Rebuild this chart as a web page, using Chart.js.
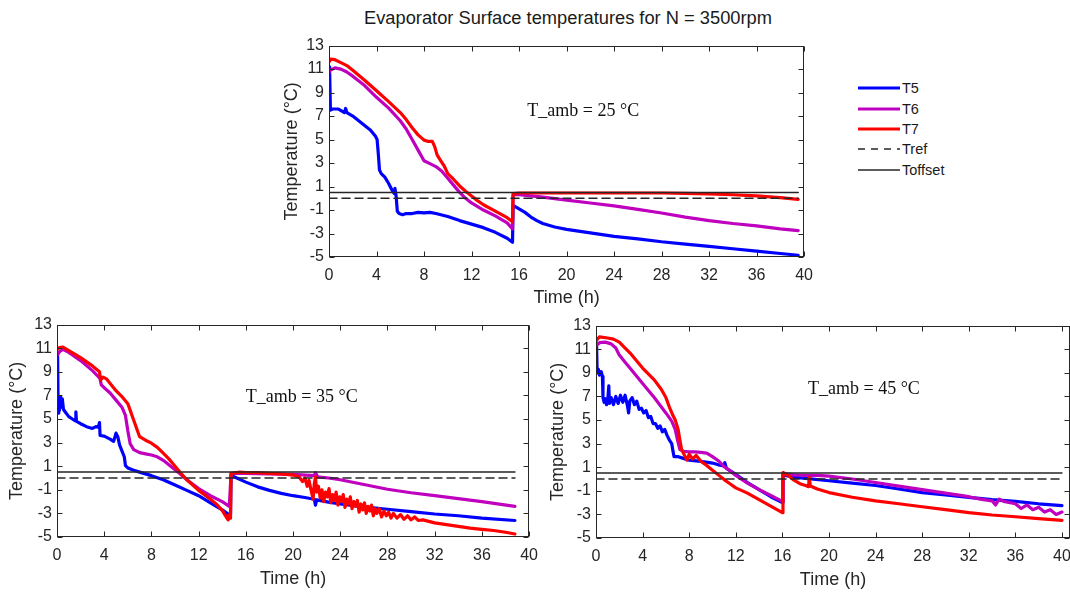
<!DOCTYPE html>
<html>
<head>
<meta charset="utf-8">
<title>Evaporator Surface temperatures for N = 3500rpm</title>
<script src="https://cdn.jsdelivr.net/npm/chart.js@4.4.1/dist/chart.umd.min.js"></script>
<style>
  html, body { margin: 0; padding: 0; background: #fff; }
  body { width: 1070px; height: 593px; overflow: hidden; position: relative;
         font-family: "Liberation Sans", Arial, sans-serif; }
  canvas { position: absolute; }
  #title { position: absolute; left: 268px; width: 600px; top: 7px; text-align: center;
           font-size: 18.3px; line-height: 22px; color: #1a1a1a; }
  .leg { position: absolute; left: 858px; height: 20px; display: flex; align-items: center;
         font-size: 14.5px; color: #1a1a1a; }
  .leg svg { display: block; margin-right: 2px; }
</style>
</head>
<body>
<div id="title">Evaporator Surface temperatures for N = 3500rpm</div>

<div class="leg" style="top:78px"><svg width="42" height="20"><line x1="0" y1="10" x2="42" y2="10" stroke="#0000ff" stroke-width="3"/></svg><span>T5</span></div>
<div class="leg" style="top:98.5px"><svg width="42" height="20"><line x1="0" y1="10" x2="42" y2="10" stroke="#bf00bf" stroke-width="3"/></svg><span>T6</span></div>
<div class="leg" style="top:119px"><svg width="42" height="20"><line x1="0" y1="10" x2="42" y2="10" stroke="#ff0000" stroke-width="3"/></svg><span>T7</span></div>
<div class="leg" style="top:139px"><svg width="42" height="20"><line x1="0" y1="10" x2="42" y2="10" stroke="#262626" stroke-width="1.5" stroke-dasharray="7,6"/></svg><span>Tref</span></div>
<div class="leg" style="top:159.5px"><svg width="42" height="20"><line x1="0" y1="10" x2="42" y2="10" stroke="#262626" stroke-width="1.5"/></svg><span>Toffset</span></div>

<canvas id="c25" width="541" height="278" style="left:281px;top:31px"></canvas>
<canvas id="c35" width="541" height="280" style="left:6px;top:310px"></canvas>
<canvas id="c45" width="537" height="280" style="left:547px;top:311px"></canvas>

<script>
// ---- T_amb = 25 °C ----
const hT5_25 = [0, 0.05, 0.12, 0.3, 0.8, 1.3, 1.4, 1.5, 2, 2.5, 3, 3.5, 3.9, 4.05, 4.15, 4.25, 4.4, 4.7, 5.0, 5.3, 5.5, 5.55, 5.65, 5.75, 5.9, 6.2, 6.5, 7, 7.5, 8, 8.5, 9, 10, 11, 12, 13, 14, 15, 15.45, 15.5, 16, 16.5, 17, 17.5, 18, 19, 20, 22, 24, 26, 28, 30, 32, 34, 36, 38, 39.5];
const T5_25 = [11.2, 11.0, 7.5, 7.6, 7.6, 7.3, 7.65, 7.3, 7.0, 6.6, 6.2, 5.8, 5.3, 5.0, 3.8, 2.4, 2.1, 1.8, 1.3, 0.7, 0.4, 0.85, 0.2, -1.1, -1.3, -1.4, -1.3, -1.3, -1.2, -1.25, -1.2, -1.3, -1.55, -1.9, -2.2, -2.5, -2.9, -3.4, -3.75, -0.6, -0.9, -1.2, -1.6, -1.9, -2.15, -2.45, -2.65, -2.95, -3.25, -3.45, -3.7, -3.9, -4.1, -4.3, -4.5, -4.7, -4.85];
const hT6_25 = [0, 0.1, 0.5, 1, 1.5, 2, 3, 4, 5, 6, 6.5, 7, 7.5, 8, 8.5, 9, 9.5, 10, 10.5, 11, 11.5, 12, 13, 14, 15, 15.45, 15.5, 16, 17, 18, 20, 22, 24, 26, 28, 30, 32, 34, 36, 38, 39.5];
const T6_25 = [10.7, 10.9, 11.1, 11.0, 10.75, 10.4, 9.6, 8.6, 7.7, 6.6, 5.9, 5.0, 4.1, 3.2, 2.95, 2.7, 2.3, 1.7, 1.1, 0.5, 0.0, -0.4, -1.0, -1.5, -2.1, -2.6, 0.3, 0.3, 0.2, 0.1, -0.15, -0.4, -0.65, -0.95, -1.25, -1.6, -1.9, -2.15, -2.35, -2.6, -2.75];
const hT7_25 = [0, 0.15, 0.5, 1, 1.5, 2, 3, 4, 5, 6, 6.5, 7, 7.5, 8, 8.3, 8.7, 8.9, 9.1, 9.4, 9.7, 10, 10.5, 11, 11.5, 12, 12.5, 13, 14, 15, 15.45, 15.5, 16, 18, 20, 22, 24, 26, 28, 30, 32, 34, 36, 38, 39.5];
const T7_25 = [11.6, 11.85, 11.8, 11.55, 11.3, 10.9, 10.05, 9.15, 8.25, 7.3, 6.7, 6.0, 5.4, 4.95, 4.85, 4.85, 4.4, 3.7, 3.2, 2.75, 2.1, 1.6, 1.05, 0.6, 0.2, -0.2, -0.55, -1.1, -1.65, -2.0, 0.4, 0.45, 0.45, 0.45, 0.45, 0.45, 0.45, 0.45, 0.42, 0.38, 0.3, 0.2, 0.05, -0.1];

// ---- T_amb = 35 °C ----
const hT5_35 = [0, 0.05, 0.1, 0.15, 0.2, 0.3, 0.35, 0.45, 0.55, 0.7, 1.0, 1.3, 1.55, 1.6, 1.65, 2, 2.5, 3, 3.3, 3.5, 3.6, 3.65, 4, 4.5, 4.8, 5.0, 5.15, 5.3, 5.5, 5.7, 5.8, 6, 6.5, 7, 7.5, 8, 9, 10, 11, 12, 13, 14, 14.7, 14.75, 15, 16, 17, 18, 19, 20, 21, 21.8, 21.9, 22, 23, 24, 26, 28, 30, 32, 34, 36, 38.8];
const T5_35 = [10.4, 10.6, 5.5, 6.6, 5.7, 6.9, 6.0, 6.7, 5.8, 5.6, 5.2, 5.0, 4.85, 5.6, 4.8, 4.6, 4.35, 4.2, 4.35, 4.3, 4.7, 3.6, 3.55, 3.3, 3.1, 3.8, 3.5, 2.8, 2.3, 1.8, 1.05, 0.85, 0.65, 0.5, 0.35, 0.2, -0.15, -0.6, -1.05, -1.5, -2.1, -2.7, -3.2, 0.2, 0.1, -0.35, -0.75, -1.05, -1.3, -1.5, -1.65, -1.8, -2.3, -1.85, -2.05, -2.2, -2.45, -2.65, -2.85, -3.05, -3.2, -3.4, -3.6];
const hT6_35 = [0, 0.2, 0.5, 1, 2, 3, 3.5, 3.65, 3.75, 4, 4.5, 5, 5.5, 5.8, 6.0, 6.2, 6.5, 7, 7.5, 8, 8.5, 9, 9.5, 10, 10.5, 11, 12, 13, 14, 14.6, 14.75, 16, 18, 20, 21.8, 21.9, 22.1, 23, 24, 26, 28, 30, 32, 34, 36, 38.8];
const T6_35 = [10.4, 10.7, 10.9, 10.65, 9.95, 9.1, 8.6, 8.4, 7.9, 7.65, 7.2, 6.6, 6.0, 5.3, 4.0, 2.9, 2.4, 2.15, 2.05, 1.95, 1.8, 1.5, 1.1, 0.7, 0.3, -0.15, -0.9, -1.5, -2.0, -2.4, 0.4, 0.4, 0.35, 0.3, 0.2, 0.45, 0.1, 0.0, -0.15, -0.55, -0.95, -1.25, -1.5, -1.75, -2.0, -2.4];
const hT7_35 = [0, 0.2, 0.5, 1, 2, 3, 3.6, 3.7, 3.9, 4.2, 5, 5.5, 6, 6.5, 7, 7.5, 8, 8.5, 9, 9.5, 10, 10.5, 11, 12, 13, 13.5, 14, 14.4, 14.5, 14.6, 14.7, 14.75, 15.5, 16, 17, 18, 19, 20,
  20.5, 20.8, 21.0, 21.2, 21.35, 21.5, 21.7, 21.8, 21.9, 22.0, 22.15, 22.3, 22.45, 22.6, 22.75, 22.9, 23.05, 23.2, 23.35, 23.5, 23.65, 23.8, 23.95, 24.1, 24.25, 24.4, 24.55, 24.7, 24.85, 25.0, 25.15, 25.3, 25.45, 25.6, 25.75, 25.9, 26.05, 26.2, 26.35, 26.5, 26.65, 26.8, 26.95, 27.1, 27.3, 27.5, 27.7, 27.9, 28.1, 28.3, 28.5, 28.8, 29.1, 29.4, 29.7, 30.0, 30.3, 30.6, 31, 32, 33, 34, 35, 36, 37, 38, 38.8];
const T7_35 = [10.9, 11.05, 11.1, 10.8, 10.2, 9.5, 9.0, 8.3, 8.55, 8.4, 7.4, 6.9, 6.3, 4.9, 3.5, 3.2, 2.95, 2.6, 2.1, 1.6, 1.0, 0.4, -0.15, -1.05, -1.8, -2.2, -2.75, -3.4, -3.55, -3.1, -3.4, 0.4, 0.5, 0.45, 0.45, 0.4, 0.35, 0.25,
  0.1, -0.3, 0.0, -0.7, -0.2, -0.9, -1.8, -0.5, 0.1, -1.2, -0.7, -1.7, -1.0, -2.0, -1.2, -1.6, -0.9, -2.1, -1.4, -1.9, -1.2, -2.3, -1.6, -2.0, -1.4, -2.5, -1.8, -2.2, -1.6, -2.6, -2.0, -2.4, -1.9, -2.9, -2.2, -2.7, -2.1, -3.0, -2.4, -2.8, -2.3, -3.2, -2.6, -3.0, -2.6, -3.3, -2.8, -3.2, -2.9, -3.4, -3.0, -3.4, -3.1, -3.5, -3.2, -3.55, -3.3, -3.6, -3.55, -3.8, -3.95, -4.1, -4.25, -4.35, -4.45, -4.6, -4.75];

// ---- T_amb = 45 °C ----
const hT5_45 = [0, 0.05, 0.1, 0.2, 0.3, 0.45, 0.55, 0.6, 0.7, 0.8, 0.9, 1.0, 1.1, 1.15, 1.3, 1.5, 1.7, 1.9, 2.1, 2.3, 2.5, 2.7, 2.8, 2.9, 3.1, 3.3, 3.5, 3.7, 3.9, 4.1, 4.3, 4.5, 4.7, 4.9, 5.1, 5.3, 5.5, 5.7, 5.9, 6.1, 6.3, 6.5, 6.6, 6.7, 7, 7.5, 8, 9, 10, 10.5, 11, 11.05, 11.2, 12, 13, 14, 15, 16, 16.05, 17, 18, 20, 22, 24, 26, 28, 30, 32, 34, 36, 38, 40];
const T5_45 = [11.5, 11.3, 9.0, 9.3, 8.8, 9.1, 8.7, 6.9, 6.5, 6.8, 6.3, 6.6, 7.9, 6.4, 6.9, 6.3, 7.0, 6.4, 7.1, 6.5, 7.1, 6.2, 5.6, 6.6, 6.9, 6.3, 6.6, 5.9, 6.0, 5.6, 5.8, 5.2, 5.3, 4.7, 4.7, 4.3, 4.5, 4.0, 4.2, 3.7, 3.3, 3.0, 2.4, 1.9, 1.9, 1.75, 1.6, 1.5, 1.35, 1.2, 1.1, 1.4, 0.9, 0.4, -0.3, -0.9, -1.5, -2.0, 0.35, 0.15, 0.05, -0.15, -0.35, -0.55, -0.85, -1.15, -1.35, -1.55, -1.75, -1.9, -2.1, -2.25];
const hT6_45 = [0, 0.3, 0.8, 1.3, 1.7, 2, 2.5, 3, 4, 5, 6, 6.5, 6.8, 7.0, 7.2, 7.5, 8, 8.5, 9, 9.5, 10, 10.5, 11, 11.5, 12, 13, 14, 15, 16, 16.05, 17, 18, 19, 20, 22, 24, 26, 28, 30, 32, 33, 34, 34.3, 34.6, 35, 36, 36.5, 37, 37.5, 38, 38.5, 39, 39.5, 40];
const T6_45 = [11.3, 11.55, 11.6, 11.45, 11.1, 10.5, 9.9, 9.3, 8.1, 6.9, 5.6, 4.9, 4.2, 3.3, 2.5, 2.35, 2.3, 2.3, 2.25, 2.2, 1.9, 1.55, 1.05, 0.7, 0.3, -0.35, -0.9, -1.4, -1.9, 0.45, 0.35, 0.3, 0.3, 0.25, 0.0, -0.3, -0.6, -0.9, -1.2, -1.5, -1.7, -1.85, -2.2, -1.7, -1.9, -2.1, -2.5, -2.2, -2.6, -2.4, -2.8, -2.6, -3.0, -2.8];
const hT7_45 = [0, 0.3, 1, 1.5, 2, 2.5, 3, 4, 5, 5.6, 6, 6.3, 6.6, 6.8, 7.05, 7.2, 7.35, 7.6, 7.8, 8, 8.3, 8.6, 9, 9.5, 10, 10.5, 11, 11.5, 12, 13, 14, 15, 16, 16.05, 16.5, 17, 17.5, 18, 18.25, 18.3, 18.4, 19, 20, 22, 24, 26, 28, 30, 32, 34, 36, 38, 40];
const T7_45 = [11.7, 12.05, 11.95, 11.85, 11.6, 11.1, 10.6, 9.4, 8.4, 7.6, 6.9, 6.1, 5.4, 5.0, 4.2, 3.3, 2.5, 2.0, 1.6, 2.1, 1.7, 2.0, 1.5, 1.15, 0.75, 0.35, -0.05, -0.4, -0.75, -1.2, -1.75, -2.3, -2.85, 0.55, 0.3, -0.1, -0.4, -0.55, -0.65, 0.15, -0.6, -0.85, -1.15, -1.55, -1.85, -2.1, -2.35, -2.6, -2.85, -3.05, -3.2, -3.35, -3.5];

// Reference levels (°C) and how long each run lasted (h)
const Tref = 0;
const Toffset = 0.5;
const runEnd = { a25: 39.5, a35: 38.8, a45: 40 };

const xTicksStep = 4;
const yTicksStep = 2;
const yMin = -5, yMax = 13;

Chart.defaults.font.family = '"Liberation Sans", Arial, sans-serif';
Chart.defaults.color = '#262626';

const pts = (xs, ys) => xs.map((v, i) => ({ x: v, y: ys[i] }));

// Box around the plot area with inward tick marks on all four sides, plus the ambient note
const framePlugin = {
  id: 'frame',
  afterDraw(chart, args, opts) {
    const { ctx, chartArea: a, scales: { x, y } } = chart;
    ctx.save();
    ctx.strokeStyle = '#262626';
    ctx.lineWidth = 1;
    const l = Math.round(a.left) + 0.5, r = Math.round(a.right) - 0.5;
    const t = Math.round(a.top) + 0.5, b = Math.round(a.bottom) - 0.5;
    ctx.strokeRect(l, t, r - l, b - t);
    ctx.beginPath();
    x.ticks.forEach(tk => {
      const px = Math.round(x.getPixelForValue(tk.value)) + 0.5;
      ctx.moveTo(px, b); ctx.lineTo(px, b - 5);
      ctx.moveTo(px, t); ctx.lineTo(px, t + 5);
    });
    y.ticks.forEach(tk => {
      const py = Math.round(y.getPixelForValue(tk.value)) + 0.5;
      ctx.moveTo(l, py); ctx.lineTo(l + 5, py);
      ctx.moveTo(r, py); ctx.lineTo(r - 5, py);
    });
    ctx.stroke();
    ctx.fillStyle = '#111';
    ctx.font = '18px "Liberation Serif", "Times New Roman", serif';
    ctx.textAlign = 'left';
    ctx.textBaseline = 'middle';
    ctx.fillText(opts.text, x.getPixelForValue(opts.x), y.getPixelForValue(opts.y));
    ctx.restore();
  }
};

function makeChart(id, cfg) {
  const end = cfg.end;
  const line = (data, color, width, order, dash) => ({
    data, borderColor: color, backgroundColor: color, borderWidth: width,
    borderDash: dash || [], pointRadius: 0, tension: 0, order,
    borderJoinStyle: 'round', borderCapStyle: 'round', fill: false
  });
  return new Chart(document.getElementById(id), {
    type: 'line',
    data: {
      datasets: [
        line(pts(cfg.h5, cfg.v5), '#0000ff', 3.2, 5),
        line(pts(cfg.h6, cfg.v6), '#bf00bf', 3.2, 4),
        line(pts(cfg.h7, cfg.v7), '#ff0000', 3.2, 3),
        line(pts([0, end], [Tref, Tref]), '#262626', 1.5, 2, [8, 5]),
        line(pts([0, end], [Toffset, Toffset]), '#262626', 1.5, 1)
      ]
    },
    plugins: [framePlugin],
    options: {
      responsive: false,
      animation: false,
      devicePixelRatio: 1,
      layout: { padding: { top: 12, right: 14, left: 0, bottom: 0 } },
      plugins: {
        legend: { display: false },
        tooltip: { enabled: false },
        frame: { text: cfg.note, x: cfg.noteX, y: cfg.noteY }
      },
      scales: {
        x: {
          type: 'linear', min: 0, max: cfg.xMax,
          grid: { display: false, drawTicks: false }, border: { display: false },
          ticks: { stepSize: xTicksStep, includeBounds: false, padding: 9, autoSkip: false,
                   maxRotation: 0, font: { size: 16 }, color: '#262626' },
          title: { display: true, text: 'Time (h)', font: { size: 18 }, color: '#262626', padding: 0 },
          afterFit(s) { s.height = cfg.xH; }
        },
        y: {
          type: 'linear', min: yMin, max: yMax,
          grid: { display: false, drawTicks: false }, border: { display: false },
          ticks: { stepSize: yTicksStep, padding: 5, font: { size: 16 }, color: '#262626' },
          title: { display: true, text: 'Temperature (°C)', font: { size: 18 }, color: '#262626', padding: 0 },
          afterFit(s) { s.width = cfg.yW; }
        }
      }
    }
  });
}

makeChart('c25', { h5: hT5_25, v5: T5_25, h6: hT6_25, v6: T6_25, h7: hT7_25, v7: T7_25,
  end: runEnd.a25, xMax: 40, yW: 48, xH: 52, note: 'T_amb = 25 °C', noteX: 16.7, noteY: 7.4 });
makeChart('c35', { h5: hT5_35, v5: T5_35, h6: hT6_35, v6: T6_35, h7: hT7_35, v7: T7_35,
  end: runEnd.a35, xMax: 40, yW: 51, xH: 53, note: 'T_amb = 35 °C', noteX: 16.0, noteY: 6.8 });
makeChart('c45', { h5: hT5_45, v5: T5_45, h6: hT6_45, v6: T6_45, h7: hT7_45, v7: T7_45,
  end: runEnd.a45, xMax: 40.69, yW: 49, xH: 53, note: 'T_amb = 45 °C', noteX: 18.2, noteY: 7.6 });
</script>
</body>
</html>
